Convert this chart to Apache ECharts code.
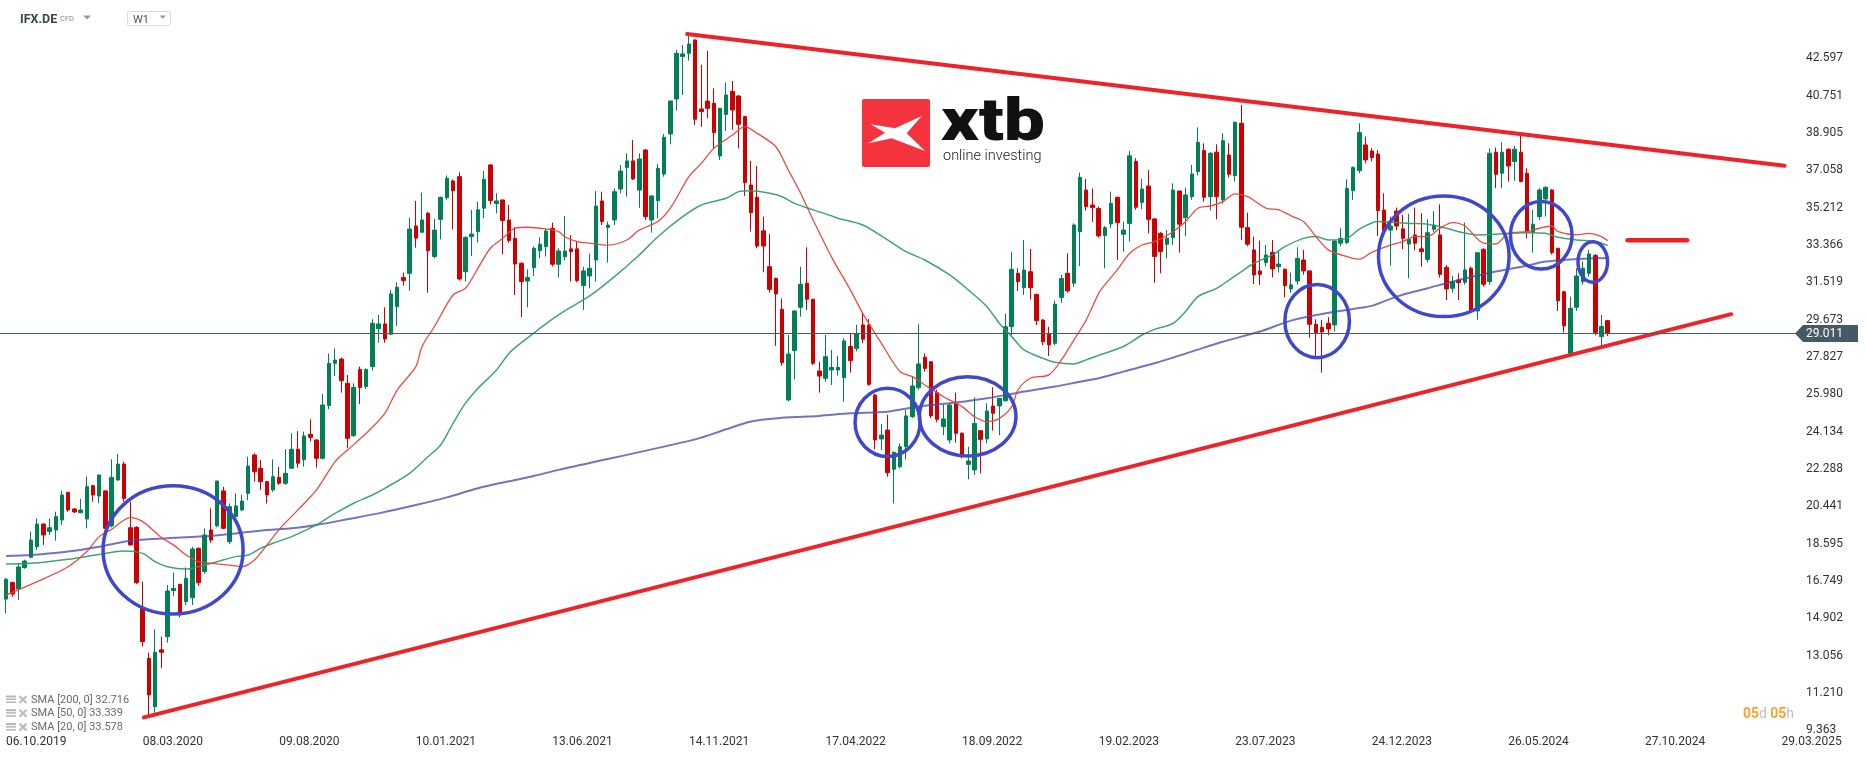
<!DOCTYPE html>
<html><head><meta charset="utf-8">
<script src="https://cdn.jsdelivr.net/npm/echarts@6/dist/echarts.min.js"></script>
<style>html,body{margin:0;padding:0;background:#fff}#c{width:1866px;height:759px}</style>
</head><body><div id="c"></div>
<script>
// ---------- data ----------
const startDateUTC = Date.UTC(2019, 9, 6);   // first weekly bar (06.10.2019)
const categoryCount = 289;                    // weekly slots on the time axis
const xTickStep = 22;                         // weeks between date labels
const xTickLabels = ['06.10.2019','08.03.2020','09.08.2020','10.01.2021','13.06.2021','14.11.2021','17.04.2022','18.09.2022','19.02.2023','23.07.2023','24.12.2023','26.05.2024','27.10.2024','29.03.2025'];
const yTickValues = [9.363,11.210,13.056,14.902,16.749,18.595,20.441,22.288,24.134,25.980,27.827,29.673,31.519,33.366,35.212,37.058,38.905,40.751,42.597];

const opens = [
15.85,16.68,16.35,17.41,17.92,18.44,19.56,19.19,19.27,19.76,
21.13,20.31,20.12,19.81,21.46,20.95,21.20,19.47,21.74,22.53,
19.38,19.40,15.39,12.92,10.53,13.34,13.99,16.27,16.58,15.72,
15.92,18.36,17.21,19.27,19.47,21.20,18.69,19.93,20.26,21.08,
22.98,22.32,21.66,21.25,21.87,21.58,22.32,23.26,22.76,24.00,
23.72,22.81,25.42,27.51,27.72,26.52,23.93,27.21,26.36,27.35,
29.22,29.46,28.95,30.31,31.75,31.96,34.30,33.99,34.93,32.79,
34.63,35.70,36.53,36.74,32.04,33.78,34.02,35.18,37.32,35.41,
35.59,34.60,33.69,32.46,31.58,32.24,33.08,33.28,34.19,32.41,
32.78,33.17,33.17,31.35,31.83,32.62,35.54,34.23,34.60,36.13,
37.19,37.52,36.08,38.06,34.60,35.55,36.87,38.85,40.58,42.68,
42.84,43.50,40.09,40.48,40.37,37.76,39.82,40.95,40.73,39.71,
36.33,35.72,34.06,32.29,31.71,30.18,25.70,28.14,30.28,31.47,
30.68,27.13,26.77,27.18,27.18,26.80,28.34,28.25,29.41,29.41,
25.94,23.77,24.21,22.27,22.40,23.39,24.87,26.31,27.81,27.59,
26.06,24.38,23.72,25.53,24.05,22.51,22.24,24.18,23.77,25.40,
25.40,25.66,29.32,31.96,31.25,32.04,30.92,29.65,28.96,28.50,
30.76,31.96,31.47,34.02,36.08,35.34,35.17,33.83,34.40,35.72,
33.89,34.43,37.49,35.47,36.28,34.65,33.94,33.40,33.73,36.03,
34.71,35.75,36.99,38.03,35.75,37.95,35.59,37.81,36.79,39.38,
34.22,33.12,32.08,32.49,33.00,32.29,32.16,31.19,31.58,32.62,
32.08,29.44,29.29,29.49,29.41,33.45,33.48,36.05,37.04,38.31,
38.01,37.86,35.09,34.10,35.04,34.16,33.41,33.86,33.17,32.65,
34.14,33.86,32.26,31.22,31.63,31.52,32.21,30.10,33.15,31.55,
37.95,36.91,38.10,37.49,37.95,36.91,33.99,34.77,35.64,36.08,
33.20,31.05,28.00,30.28,31.55,31.96,32.84,28.83,29.62];
const highs = [
16.90,16.70,17.62,17.80,19.19,19.84,19.60,19.84,20.17,21.21,
21.15,20.35,20.80,21.91,21.50,22.00,21.25,22.76,23.03,22.65,
20.67,19.45,16.71,13.20,14.36,13.99,16.55,17.16,16.60,17.41,
18.44,18.40,19.35,20.34,21.70,21.41,20.58,21.08,21.00,22.89,
23.06,22.73,21.70,22.76,22.40,23.26,24.05,24.16,24.13,24.74,
23.75,25.99,28.00,28.25,27.80,26.93,26.52,27.35,27.26,29.69,
29.90,30.28,31.14,31.50,32.00,34.71,35.54,35.95,35.00,34.65,
35.75,36.80,36.60,36.96,33.80,35.10,35.51,37.02,37.35,35.92,
35.60,35.34,34.24,32.50,32.16,33.28,33.74,34.19,34.47,33.20,
34.80,33.85,33.53,32.29,32.95,36.03,36.00,34.52,36.16,37.32,
37.90,38.56,37.90,38.11,35.80,37.37,38.85,40.50,43.00,43.25,
43.83,43.53,42.27,42.96,41.11,40.15,41.39,41.47,40.78,39.75,
37.52,37.27,34.76,33.90,31.75,30.72,28.91,30.12,32.29,33.25,
30.70,27.59,28.91,28.17,27.87,28.75,29.00,29.41,29.98,29.70,
26.00,24.51,24.96,23.15,23.55,25.20,26.85,29.44,28.00,27.60,
26.20,25.45,25.50,26.06,24.10,23.39,25.83,24.20,25.53,26.32,
25.80,29.98,33.03,32.21,33.61,33.16,30.95,29.70,29.32,30.61,
31.88,32.95,34.43,36.94,36.63,36.16,35.26,34.30,36.00,35.75,
34.52,38.01,37.65,36.63,37.07,34.70,34.00,34.10,36.41,36.05,
36.20,37.32,39.18,38.39,37.95,38.34,38.89,38.39,39.46,40.29,
34.96,33.78,33.58,33.36,33.61,33.11,32.20,32.00,33.25,33.12,
32.10,29.69,29.66,29.79,33.60,34.19,36.61,37.25,39.38,38.72,
38.14,38.06,35.92,34.77,35.21,34.85,34.90,35.22,34.93,34.63,
35.04,35.37,32.37,31.83,31.96,34.47,32.30,33.00,33.20,38.14,
38.18,38.44,38.15,38.26,38.84,37.16,35.09,36.17,36.25,36.12,
33.20,31.10,30.81,32.21,32.54,33.12,32.92,29.90,29.65];
const lows = [
15.15,15.97,15.81,17.35,17.87,18.28,18.53,19.02,18.74,19.52,
20.17,20.10,20.10,19.35,20.67,20.59,19.30,19.40,21.70,20.67,
18.50,16.60,13.50,9.96,10.24,12.43,13.70,16.00,14.95,15.56,
15.56,16.50,17.10,18.64,19.40,19.30,18.58,19.90,20.20,20.75,
21.66,21.25,20.58,21.16,21.50,21.50,22.30,22.35,22.40,23.64,
22.35,22.76,25.24,26.88,26.06,23.31,23.88,25.50,26.24,27.15,
28.53,28.53,28.90,29.36,31.35,31.10,33.23,33.99,31.00,32.70,
33.64,35.60,34.14,31.60,31.55,32.82,33.48,34.68,35.37,34.93,
32.90,33.48,30.89,29.79,30.28,31.83,32.70,32.79,32.30,31.76,
32.60,31.55,31.52,30.15,31.22,31.55,34.35,32.49,34.35,35.92,
35.75,36.58,35.20,34.60,33.97,34.68,36.74,38.34,40.00,40.78,
42.48,39.30,39.21,39.63,38.10,37.57,39.00,39.05,38.14,35.79,
34.02,33.20,32.01,31.00,28.37,27.40,25.62,26.72,29.82,30.15,
27.43,26.06,26.60,26.44,26.90,25.61,27.05,28.10,28.50,26.40,
23.26,23.23,21.90,20.58,22.32,22.76,24.80,26.20,27.10,24.80,
24.60,23.96,23.55,23.59,22.81,21.77,21.99,22.07,23.55,24.18,
23.96,25.61,28.91,31.09,30.89,30.67,29.40,28.40,27.87,28.40,
30.50,31.00,31.30,32.32,35.06,34.50,33.73,32.21,34.19,32.62,
33.03,33.53,35.10,35.14,33.94,31.50,31.96,32.70,33.36,32.98,
33.80,35.60,36.80,35.51,35.06,34.63,35.40,36.70,36.50,33.61,
33.30,31.43,31.39,32.30,31.76,32.00,30.78,31.00,31.40,31.90,
28.78,27.84,27.05,28.90,29.08,33.30,33.40,35.59,36.90,37.40,
37.50,33.81,33.90,32.34,34.10,33.15,31.71,33.10,32.29,32.50,
34.00,31.75,30.64,31.00,30.64,31.40,30.00,29.66,31.30,31.40,
36.17,36.17,36.50,36.54,36.46,33.69,32.98,34.60,34.77,32.90,
30.10,29.03,27.90,30.10,31.40,31.80,28.90,28.37,28.86];
const closes = [
16.83,16.10,17.44,17.73,18.77,19.56,19.02,19.38,19.93,21.00,
20.26,20.16,20.26,21.41,21.00,21.99,19.35,21.87,22.53,20.83,
18.53,16.66,13.75,11.11,13.22,13.22,16.25,16.38,15.18,16.88,
18.33,16.66,19.02,18.77,21.69,19.35,20.42,20.46,20.70,22.43,
22.15,21.66,21.00,21.90,21.58,22.07,23.26,22.57,23.92,23.85,
22.81,25.45,27.51,27.67,26.65,23.80,26.32,26.32,27.21,29.49,
29.46,28.71,30.94,31.27,31.60,34.15,33.70,34.60,33.08,34.10,
35.72,36.66,36.05,31.68,33.74,33.90,35.10,36.61,35.56,35.54,
34.57,33.58,32.42,31.55,31.76,33.20,33.40,34.05,32.41,33.07,
33.06,33.03,31.60,32.08,32.21,35.29,34.52,34.35,36.00,37.02,
37.52,36.63,37.62,34.76,35.79,37.15,38.69,40.48,42.84,42.81,
43.30,39.58,39.96,40.12,38.92,40.12,40.78,40.04,39.33,36.45,
34.96,33.31,33.31,31.17,30.94,27.54,27.97,30.10,31.42,30.68,
27.51,26.88,27.84,27.31,27.31,28.62,27.64,28.99,28.70,26.47,
23.72,23.96,22.10,23.11,23.39,24.91,26.39,27.48,27.26,24.91,
24.74,24.76,25.45,24.05,22.89,22.68,24.54,23.75,25.15,25.04,
25.78,29.32,32.16,31.55,32.12,31.25,29.62,28.58,28.42,30.43,
31.71,31.09,34.35,36.71,35.26,35.21,33.81,34.22,35.42,34.47,
34.10,37.77,35.23,36.13,34.63,32.79,33.03,33.70,36.08,34.39,
35.84,36.87,38.44,35.72,37.90,35.75,38.52,36.86,39.43,34.24,
33.40,31.88,31.91,32.87,32.18,32.42,31.35,31.39,32.70,32.08,
29.44,29.03,29.06,29.21,33.56,33.69,36.16,37.20,38.92,37.57,
37.68,35.06,34.07,34.30,34.30,33.69,33.64,33.45,33.03,33.97,
34.35,31.91,31.19,31.55,31.50,32.13,30.10,32.98,31.42,37.90,
36.86,37.95,37.27,38.10,36.50,34.02,34.39,36.08,36.22,32.98,
30.60,29.36,30.23,31.83,32.21,32.92,29.03,29.33,29.011];

// moving averages: [week index, value]
const sma20 = [[0,16.05],[5,16.71],[10,17.45],[13,18.2],[15,18.94],[17,19.3],[20,19.88],[22,19.68],[25,18.9],[27,18.52],[29,18.03],[31,17.7],[34,17.59],[37,17.49],[38,17.45],[40,17.78],[42,18.52],[44,19.3],[47,20.26],[50,21.25],[53,22.65],[55,23.22],[58,24.05],[61,25.04],[63,26.19],[66,27.35],[67,28.34],[69,29.33],[72,30.89],[74,31.22],[76,32.21],[78,33.2],[80,33.69],[82,34.19],[84,34.24],[87,34.15],[89,34.02],[90,33.77],[92,33.53],[94,33.45],[97,33.36],[100,33.61],[102,34.1],[105,34.52],[107,35.18],[110,36.74],[112,37.4],[114,38.14],[117,38.8],[119,39.22],[121,38.88],[124,38.22],[126,37.07],[128,35.92],[130,34.6],[133,32.75],[136,31.14],[138,29.98],[141,28.5],[144,27.1],[146,26.85],[148,26.44],[151,25.86],[154,25.37],[156,24.87],[158,24.63],[160,24.79],[162,25.37],[163,26.19],[165,26.77],[168,26.94],[170,27.68],[172,28.66],[174,29.65],[176,30.97],[177,31.39],[179,32.13],[181,32.95],[183,33.36],[185,33.53],[188,34.02],[190,34.52],[192,35.18],[194,35.29],[196,35.51],[198,35.89],[200,35.75],[203,35.18],[205,35.1],[207,34.8],[209,34.52],[211,33.78],[213,33.12],[216,32.79],[218,32.66],[220,33.0],[223,33.36],[225,33.53],[227,33.78],[229,33.78],[231,34.19],[233,34.47],[235,34.3],[238,33.45],[240,33.41],[242,33.94],[245,34.02],[247,34.19],[249,34.3],[250,34.02],[253,33.86],[255,33.94],[257,33.78],[258,33.578]];
const sma50 = [[0,17.59],[4,17.62],[10,17.82],[15,18.06],[19,18.23],[22,18.11],[24,17.7],[26,17.45],[29,17.34],[31,17.45],[34,17.7],[37,17.95],[39,18.03],[41,18.36],[43,18.61],[46,18.94],[50,19.52],[53,20.09],[56,20.59],[59,21.0],[61,21.33],[65,22.07],[68,22.9],[70,23.47],[72,24.54],[74,25.54],[76,26.27],[79,27.18],[81,28.0],[83,28.53],[86,29.24],[88,29.7],[90,30.1],[94,30.84],[98,31.8],[102,32.87],[105,33.77],[109,34.76],[112,35.34],[116,35.67],[118,36.0],[120,36.05],[123,35.92],[125,35.75],[127,35.42],[130,35.1],[133,34.8],[134,34.68],[138,34.35],[142,33.61],[145,33.03],[148,32.62],[152,31.88],[155,31.14],[158,30.31],[160,29.49],[162,28.83],[164,28.17],[167,27.76],[169,27.56],[172,27.48],[174,27.68],[177,28.01],[180,28.34],[183,28.91],[185,29.19],[188,29.49],[190,30.07],[192,30.81],[195,31.22],[197,31.63],[199,32.05],[201,32.46],[204,32.87],[206,33.28],[209,33.69],[211,33.78],[213,33.61],[216,33.69],[218,34.15],[220,34.45],[221,34.52],[224,34.47],[226,34.43],[229,34.39],[232,34.19],[234,34.02],[237,33.86],[240,33.89],[242,33.94],[245,33.97],[248,33.94],[250,33.74],[253,33.61],[256,33.53],[258,33.339]];
const sma200 = [[0,17.98],[4,18.03],[10,18.2],[15,18.44],[20,18.74],[26,18.86],[31,18.94],[37,19.1],[42,19.27],[46,19.35],[50,19.52],[55,19.8],[60,20.09],[66,20.5],[71,20.88],[76,21.33],[82,21.74],[85,21.94],[89,22.24],[111,23.75],[116,24.25],[120,24.63],[125,24.82],[131,24.91],[136,25.04],[142,25.12],[147,25.37],[153,25.57],[158,25.78],[163,26.06],[169,26.36],[173,26.6],[176,26.77],[180,27.1],[185,27.51],[191,28.09],[196,28.58],[202,29.08],[207,29.62],[212,29.95],[217,30.2],[220,30.35],[224,30.81],[229,31.22],[234,31.63],[240,32.05],[245,32.34],[248,32.54],[252,32.65],[256,32.7],[258,32.716]];
const smaLegend = [['SMA [200, 0]', 32.716], ['SMA [50, 0]', 33.339], ['SMA [20, 0]', 33.578]];

// hand drawings on the chart, in (week index, price) units
const trendLines = [[109.7, 43.80, 286.5, 37.28], [22.2, 10.00, 277.9, 29.94]];
const levelDash = [[261.2, 33.60, 270.8, 33.60]];
const ellipses = [  // centre week, centre price, half-width (weeks), half-height (price)
  [26.9, 18.28, 11.28, 3.17],
  [142.0, 24.59, 5.24, 1.69],
  [154.9, 24.89, 7.78, 1.96],
  [211.2, 29.60, 5.20, 1.81],
  [231.6, 32.80, 10.52, 2.98],
  [247.3, 33.84, 4.96, 1.67],
  [255.6, 32.52, 2.38, 1.00]
];

// ---------- build ----------
const pad = n => (n < 10 ? '0' : '') + n;
const categories = [];
for (let i = 0; i < categoryCount; i++) {
  const d = new Date(startDateUTC + i * 7 * 864e5);
  categories.push(pad(d.getUTCDate()) + '.' + pad(d.getUTCMonth() + 1) + '.' + d.getUTCFullYear());
}
const candleData = opens.map((o, i) => [o, closes[i], lows[i], highs[i]]);
const lastIdx = closes.length - 1;
const lastClose = closes[lastIdx];
const FONT = 'Roboto';

const chart = echarts.init(document.getElementById('c'), null, {renderer: 'canvas'});

const graphic = [
  {type: 'text', x: 20, y: 19.5, style: {text: 'IFX.DE', fontFamily: FONT, fontWeight: 'bold', fontSize: 12.5, fill: '#37474f', verticalAlign: 'middle'}},
  {type: 'text', x: 60, y: 19.5, style: {text: 'CFD', fontFamily: FONT, fontSize: 7.5, fill: '#8a8a8a', verticalAlign: 'middle'}},
  {type: 'polygon', shape: {points: [[83, 15.5], [91, 15.5], [87, 19.5]]}, style: {fill: '#9a9a9a'}},
  {type: 'rect', shape: {x: 127.5, y: 11.5, width: 43, height: 14, r: 1}, style: {fill: '#fff', stroke: '#dcdcdc', lineWidth: 1}},
  {type: 'text', x: 133, y: 20, style: {text: 'W1', fontFamily: FONT, fontSize: 11, fill: '#555', verticalAlign: 'middle'}},
  {type: 'polygon', shape: {points: [[159.5, 15.5], [166, 15.5], [162.75, 18.8]]}, style: {fill: '#9a9a9a'}},
  // logo
  {type: 'rect', shape: {x: 862, y: 99, width: 68, height: 68, r: 2}, style: {fill: '#f4333f'}},
  {type: 'polygon', shape: {points: [[870.7,124.3],[895,128.3],[921.7,116],[906.7,133.3],[925,151],[891.7,138.3],[868.3,143.3],[885,132.7]]}, style: {fill: '#ffffff'}},
  {type: 'text', x: 941, y: 124.5, scaleX: 1.22, style: {text: 'xtb', fontFamily: FONT, fontWeight: 900, fontSize: 60, fill: '#111', verticalAlign: 'middle'}},
  {type: 'text', x: 943, y: 156.5, style: {text: 'online investing', fontFamily: FONT, fontWeight: 300, fontSize: 14.5, fill: '#222', verticalAlign: 'middle'}},
  // countdown
  {type: 'text', x: 1743, y: 714.5, style: {text: '{o|05}{g|d} {o|05}{g|h}', verticalAlign: 'middle',
     rich: {o: {fill: '#f7a133', fontFamily: FONT, fontWeight: 'bold', fontSize: 14}, g: {fill: '#c0c0c0', fontFamily: FONT, fontSize: 14}}}}
];
const legendY = [700, 713.7, 727.6];
smaLegend.forEach((s, k) => {
  const y = legendY[k];
  graphic.push({type: 'rect', shape: {x: 6, y: y - 4.5, width: 10, height: 2}, style: {fill: '#b5b5b5'}});
  graphic.push({type: 'rect', shape: {x: 6, y: y - 1.5, width: 10, height: 1.5}, style: {fill: '#b5b5b5'}});
  graphic.push({type: 'rect', shape: {x: 6, y: y + 1.5, width: 10, height: 1.5}, style: {fill: '#b5b5b5'}});
  graphic.push({type: 'line', shape: {x1: 19.5, y1: y - 4, x2: 26.5, y2: y + 3}, style: {stroke: '#bdbdbd', lineWidth: 2.2}});
  graphic.push({type: 'line', shape: {x1: 26.5, y1: y - 4, x2: 19.5, y2: y + 3}, style: {stroke: '#bdbdbd', lineWidth: 2.2}});
  graphic.push({type: 'text', x: 31, y: y, style: {text: s[0] + ' ' + s[1].toFixed(3), fontFamily: FONT, fontSize: 11, fill: '#6a6a6a', verticalAlign: 'middle'}});
});

const option = {
  animation: false,
  backgroundColor: '#ffffff',
  grid: {left: 3, right: 69, top: 5, bottom: 27, containLabel: false},
  xAxis: [
    {type: 'category', data: categories, boundaryGap: true,
     axisLine: {show: false}, axisTick: {show: false}, splitLine: {show: false},
     axisLabel: {interval: (i) => i % xTickStep === 0 && i / xTickStep < xTickLabels.length,
       formatter: (v, i) => xTickLabels[Math.round(i / xTickStep)] || '',
       align: 'left', margin: 4, fontFamily: FONT, fontSize: 12, color: '#333', hideOverlap: false}},
    {type: 'value', min: -0.5, max: categoryCount - 0.5, show: false}
  ],
  yAxis: {type: 'value', position: 'right', min: 9.278, max: 45.23, scale: true,
    axisLine: {show: false}, axisTick: {show: false}, splitLine: {show: false},
    axisLabel: {customValues: yTickValues, formatter: v => v.toFixed(3), margin: 9, fontFamily: FONT, fontSize: 12, color: '#333'}},
  graphic: graphic,
  series: [
    {type: 'candlestick', xAxisIndex: 0, data: candleData, barWidth: 4, z: 2,
     itemStyle: {color: '#008054', color0: '#cc0000', borderColor: '#008054', borderColor0: '#cc0000', borderWidth: 1}},
    {type: 'line', xAxisIndex: 1, data: sma200, showSymbol: false, smooth: 0.3, z: 3,
     lineStyle: {color: '#4347a8', width: 2, opacity: 0.75}},
    {type: 'line', xAxisIndex: 1, data: sma50, showSymbol: false, smooth: 0.3, z: 3,
     lineStyle: {color: '#2b9a6a', width: 1.5, opacity: 0.9}},
    {type: 'line', xAxisIndex: 1, data: sma20, showSymbol: false, smooth: 0.3, z: 3,
     lineStyle: {color: '#e8423b', width: 1.3, opacity: 0.95}},
    {type: 'custom', xAxisIndex: 1, data: trendLines.concat(levelDash), clip: false, z: 4, silent: true,
     encode: {x: [0, 2], y: [1, 3]},
     renderItem: (params, api) => {
       const a = api.coord([api.value(0), api.value(1)]);
       const b = api.coord([api.value(2), api.value(3)]);
       const isDash = params.dataIndex >= trendLines.length;
       return {type: 'line', shape: {x1: a[0], y1: a[1], x2: b[0], y2: b[1]},
               style: {stroke: '#ee2229', lineWidth: isDash ? 4.5 : 4, lineCap: 'round'}};
     }},
    {type: 'custom', xAxisIndex: 1, data: ellipses, clip: false, z: 4, silent: true,
     encode: {x: 0, y: 1},
     renderItem: (params, api) => {
       const c = api.coord([api.value(0), api.value(1)]);
       const rx = api.size([api.value(2), 0])[0];
       const ry = api.size([0, api.value(3)])[1];
       return {type: 'ellipse', shape: {cx: c[0], cy: c[1], rx: rx, ry: ry},
               style: {fill: 'none', stroke: '#3f48cc', lineWidth: 3.5}};
     }},
    {type: 'custom', xAxisIndex: 1, data: [[lastIdx, lastClose]], clip: false, z: 5, silent: true,
     encode: {x: 0, y: 1},
     renderItem: (params, api) => {
       const y = Math.round(api.coord([0, api.value(1)])[1]) + 0.5;
       const cs = params.coordSys;
       const R = cs.x + cs.width;
       return {type: 'group', children: [
         {type: 'line', shape: {x1: 0, y1: y, x2: R, y2: y}, style: {stroke: '#4a5a63', lineWidth: 1}},
         {type: 'polygon', shape: {points: [[R - 2, y], [R + 6, y - 8.5], [R + 61, y - 8.5], [R + 61, y + 8.5], [R + 6, y + 8.5]]}, style: {fill: '#455a64'}},
         {type: 'text', x: R + 9, y: y + 0.5, style: {text: api.value(1).toFixed(3), fontFamily: FONT, fontSize: 12, fill: '#ffffff', verticalAlign: 'middle'}}
       ]};
     }}
  ]
};
chart.setOption(option);
</script>
</body></html>
